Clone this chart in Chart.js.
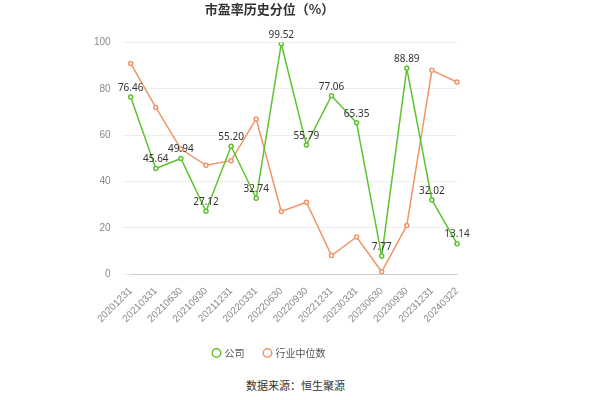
<!DOCTYPE html>
<html><head><meta charset="utf-8">
<script src="https://cdn.jsdelivr.net/npm/chart.js@4/dist/chart.umd.min.js"></script>
<style>
body{margin:0;background:#fff;font-family:"Noto Sans CJK SC","Noto Sans",sans-serif;}
#wrap{position:relative;width:591px;height:400px;}
#src{position:absolute;left:0;width:591px;top:377px;text-align:center;font-size:11px;color:#333;}
</style></head>
<body>
<div id="wrap"><canvas id="c" width="591" height="370"></canvas><div id="src">数据来源：恒生聚源</div></div>
<script>
const categories = ["20201231","20210331","20210630","20210930","20211231","20220331","20220630","20220930","20221231","20230331","20230630","20230930","20231231","20240322"];
const companyValues = [76.46,45.64,49.94,27.12,55.20,32.74,99.52,55.79,77.06,65.35,7.77,88.89,32.02,13.14];
const industryValues = [91,72,54,47,49,67,27,31,8,16,1,21,88,83];
const yTicks = [0,20,40,60,80,100];

const labelPlugin = {
  id: "labels",
  afterDatasetsDraw(chart){
    const ctx = chart.ctx;
    const meta = chart.getDatasetMeta(0);
    ctx.save();
    ctx.font = "10px 'Noto Sans', sans-serif";
    ctx.fillStyle = "#333";
    ctx.textAlign = "center";
    ctx.textBaseline = "bottom";
    meta.data.forEach((p, i) => {
      ctx.fillText(companyValues[i].toFixed(2), p.x, p.y - 4);
    });
    ctx.restore();
  }
};

new Chart(document.getElementById("c").getContext("2d"), {
  type: "line",
  data: {
    labels: categories,
    datasets: [
      {label: "公司", data: companyValues, borderColor: "#5ec22f", backgroundColor: "#fff",
       pointBorderColor: "#5ec22f", pointRadius: 2, borderWidth: 1.5, tension: 0},
      {label: "行业中位数", data: industryValues, borderColor: "#f0956a", backgroundColor: "#fff",
       pointBorderColor: "#f0956a", pointRadius: 2, borderWidth: 1.5, tension: 0}
    ]
  },
  options: {
    responsive: false,
    animation: false,
    layout: {padding: {left: 82, right: 134, top: 0, bottom: 2}},
    plugins: {
      title: {display: true, text: "市盈率历史分位（%）", color: "#333",
        font: {size: 13, weight: "bold", family: "'Noto Sans CJK SC'"}, padding: {top: 1, bottom: 26}},
      legend: {position: "bottom", labels: {usePointStyle: true, pointStyle: "circle", boxWidth: 6, boxHeight: 6,
        color: "#555", font: {size: 10, family: "'Noto Sans CJK SC'"}, padding: 20}},
      tooltip: {enabled: false}
    },
    scales: {
      x: {grid: {display: false}, border: {color: "#ccc"},
        ticks: {maxRotation: 45, minRotation: 45, color: "#888", font: {size: 10}, autoSkip: false}},
      y: {min: 0, max: 100, afterBuildTicks: s => { s.ticks = yTicks.map(v => ({value: v})); },
        grid: {color: "#eee"}, border: {display: false},
        ticks: {color: "#888", font: {size: 10}, padding: 12}}
    }
  },
  plugins: [labelPlugin]
});
</script>
</body></html>
